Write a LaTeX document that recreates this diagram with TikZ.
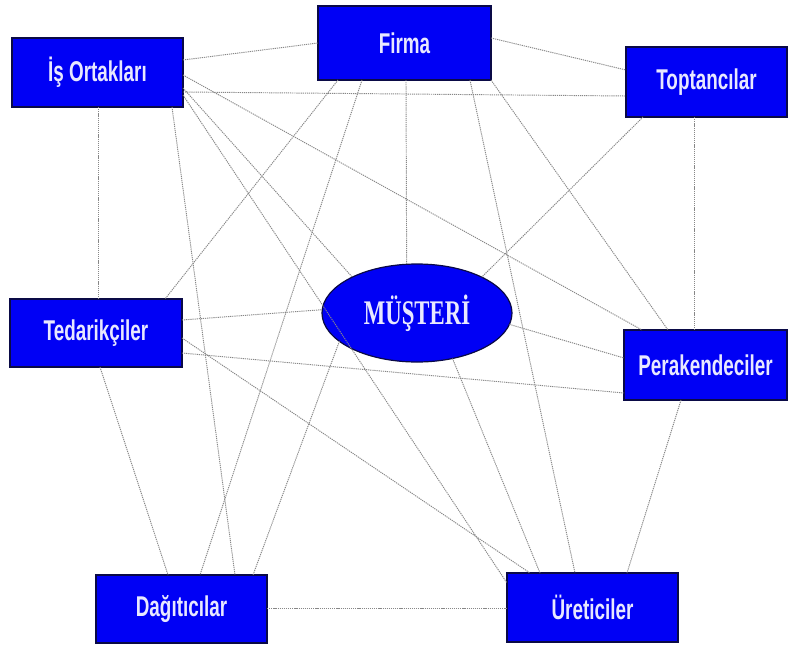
\documentclass[tikz,border=0pt]{standalone}
\usepackage{fontspec}
\newfontfamily\boxfont[FakeStretch=0.66]{Liberation Sans}
\newfontfamily\musfont[FakeStretch=0.66]{Liberation Serif}
\usetikzlibrary{shapes.geometric}
\definecolor{boxblue}{RGB}{0,0,245}
\definecolor{txtcol}{RGB}{232,232,255}
\definecolor{edgegray}{RGB}{135,135,135}
\definecolor{bordercol}{RGB}{10,10,70}
\tikzset{
  actor/.style={rectangle, draw=bordercol, line width=1.2pt, fill=boxblue, text=txtcol,
    font=\boxfont\bfseries\fontsize{28.6}{31}\selectfont, inner sep=0pt, outer sep=0pt},
  link/.style={draw=edgegray, line width=0.95pt, dash pattern=on 1.2pt off 0.9pt},
}
\begin{document}
\begin{tikzpicture}[x=1pt,y=1pt]
\useasboundingbox (0,0) rectangle (788,-646);
% nodes
\node[actor, minimum width=171pt, minimum height=69pt] (io) at (97.5,-72.5) {İş Ortakları};
\node[actor, minimum width=173pt, minimum height=74pt] (firma) at (404.5,-43) {Firma};
\node[actor, minimum width=161pt, minimum height=70pt] (top) at (706.5,-82) {Toptancılar};
\node[actor, minimum width=172pt, minimum height=68pt] (ted) at (96,-333) {Tedarikçiler};
\node[actor, minimum width=163pt, minimum height=70pt] (per) at (705.5,-365) {Perakendeciler};
\node[actor, minimum width=171pt, minimum height=68pt] (dag) at (181.5,-609) {Dağıtıcılar};
\node[actor, minimum width=171pt, minimum height=69pt] (ure) at (592.5,-607.5) {Üreticiler};
\node[ellipse, draw=bordercol, line width=1.2pt, fill=boxblue, text=txtcol, inner sep=0pt, outer sep=0pt,
  minimum width=190pt, minimum height=98pt] (mus) at (417,-313) {\musfont\bfseries\fontsize{34.5}{40}\selectfont MÜŞTERİ};
% links
\draw[link] ([shift={(171,-22)}]io.north west) -- ([shift={(0,-37)}]firma.north west);
\draw[link] ([shift={(171,-54)}]io.north west) -- ([shift={(0,-49)}]top.north west);
\draw[link] ([shift={(86,-69)}]io.north west) -- ([shift={(88,0)}]ted.north west);
\draw[link] ([shift={(160,-69)}]io.north west) -- ([shift={(139,0)}]dag.north west);
\draw[link] ([shift={(171,-37)}]io.north west) -- ([shift={(18,0)}]per.north west);
\draw[link] ([shift={(171,-50)}]io.north west) -- (mus.151);
\draw[link] ([shift={(171,-57)}]io.north west) -- ([shift={(0,-10)}]ure.north west);
\draw[link] ([shift={(20,-74)}]firma.north west) -- ([shift={(155,0)}]ted.north west);
\draw[link] ([shift={(44,-74)}]firma.north west) -- ([shift={(104,0)}]dag.north west);
\draw[link] ([shift={(88,-74)}]firma.north west) -- (mus.102.7);
\draw[link] ([shift={(152,-74)}]firma.north west) -- ([shift={(68,0)}]ure.north west);
\draw[link] ([shift={(173,-74)}]firma.north west) -- ([shift={(44,0)}]per.north west);
\draw[link] ([shift={(173,-32)}]firma.north west) -- ([shift={(0,-23)}]top.north west);
\draw[link] ([shift={(17,-70)}]top.north west) -- (mus.29);
\draw[link] ([shift={(68,-70)}]top.north west) -- ([shift={(70,0)}]per.north west);
\draw[link] ([shift={(172,-21)}]ted.north west) -- (mus.178);
\draw[link] ([shift={(172,-54)}]ted.north west) -- ([shift={(0,-63)}]per.north west);
\draw[link] ([shift={(172,-39)}]ted.north west) -- ([shift={(23,0)}]ure.north west);
\draw[link] ([shift={(90,-68)}]ted.north west) -- ([shift={(72,0)}]dag.north west);
\draw[link] (mus.-7) -- ([shift={(0,-28)}]per.north west);
\draw[link] (mus.-52.4) -- ([shift={(33,0)}]ure.north west);
\draw[link] (mus.200.4) -- ([shift={(157,0)}]dag.north west);
\draw[link] ([shift={(57,-70)}]per.north west) -- ([shift={(120,0)}]ure.north west);
\draw[link] ([shift={(171,-33)}]dag.north west) -- ([shift={(0,-35)}]ure.north west);
\end{tikzpicture}
\end{document}
